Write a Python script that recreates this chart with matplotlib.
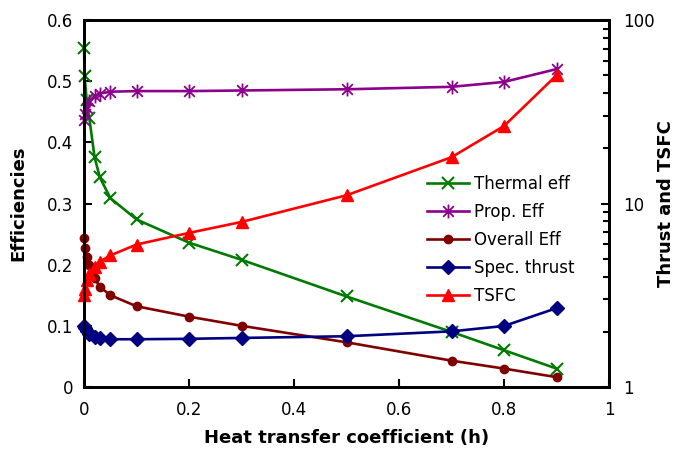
import numpy as np
import matplotlib
matplotlib.use('Agg')
from matplotlib import pyplot as plt
from matplotlib.path import Path

# heat transfer coefficient
h = [0, 0.001, 0.005, 0.01, 0.02, 0.03, 0.05, 0.1, 0.2, 0.3, 0.5, 0.7, 0.8, 0.9]

# efficiencies (left axis)
thermal_eff = [0.554, 0.508, 0.47, 0.44, 0.376, 0.343, 0.309, 0.274, 0.236, 0.208, 0.148, 0.09, 0.06, 0.03]
prop_eff = [0.437, 0.447, 0.457, 0.467, 0.476, 0.48, 0.483, 0.484, 0.484, 0.485, 0.487, 0.491, 0.499, 0.52]
overall_eff = [0.243, 0.227, 0.213, 0.2, 0.178, 0.164, 0.15, 0.132, 0.115, 0.1, 0.073, 0.043, 0.03, 0.016]

# thrust and TSFC (right axis, log)
spec_thrust = [2.15, 2.1, 2.03, 1.95, 1.88, 1.85, 1.82, 1.82, 1.83, 1.85, 1.89, 2.01, 2.15, 2.69]
tsfc = [3.16, 3.41, 3.83, 4.13, 4.53, 4.83, 5.21, 5.98, 6.92, 7.94, 11.1, 17.9, 26.5, 50.1]

# excel-style star marker (X plus vertical bar)
star = Path([(-1, -1), (1, 1), (-1, 1), (1, -1), (0, -1.3), (0, 1.3)],
            [Path.MOVETO, Path.LINETO, Path.MOVETO, Path.LINETO, Path.MOVETO, Path.LINETO])

plt.rcParams['font.family'] = 'DejaVu Sans'

fig = plt.figure(figsize=(6.89, 4.59), dpi=100)
ax = fig.add_axes([0.122, 0.157, 0.762, 0.799])
ax2 = ax.twinx()

lw = 1.9
l1, = ax.plot(h, thermal_eff, color='#007a00', lw=lw, marker='x', ms=9, mew=1.5, label='Thermal eff', clip_on=False)
l2, = ax.plot(h, prop_eff, color='#8b008b', lw=lw, marker=star, ms=10, mew=1.3, label='Prop. Eff', clip_on=False)
l3, = ax.plot(h, overall_eff, color='#800000', lw=lw, marker='o', ms=6, label='Overall Eff', clip_on=False)
l4, = ax2.plot(h, spec_thrust, color='#000080', lw=lw, marker='D', ms=7, label='Spec. thrust', clip_on=False)
l5, = ax2.plot(h, tsfc, color='#ff0000', lw=lw, marker='^', ms=9, label='TSFC', clip_on=False)

ax.set_xlim(0, 1)
ax.set_ylim(0, 0.6)
ax.set_xticks([0, 0.2, 0.4, 0.6, 0.8, 1])
ax.set_xticklabels(['0', '0.2', '0.4', '0.6', '0.8', '1'])
ax.set_yticks([0, 0.1, 0.2, 0.3, 0.4, 0.5, 0.6])
ax.set_yticklabels(['0', '0.1', '0.2', '0.3', '0.4', '0.5', '0.6'])
ax2.set_yscale('log')
ax2.set_ylim(1, 100)
ax2.set_yticks([1, 10, 100])
ax2.set_yticklabels(['1', '10', '100'])

ax.tick_params(direction='in', length=6, width=1.5, labelsize=12, pad=8)
ax.tick_params(axis='x', pad=10)
ax2.tick_params(which='major', direction='in', length=6, width=1.5, labelsize=12, pad=10)
ax2.tick_params(which='minor', direction='in', length=4, width=1.5)

for a in (ax, ax2):
    for s in a.spines.values():
        s.set_linewidth(2)

ax.set_xlabel('Heat transfer coefficient (h)', fontsize=13, fontweight='bold', labelpad=7)
ax.set_ylabel('Efficiencies', fontsize=13, fontweight='bold', labelpad=14)
ax2.set_ylabel('Thrust and TSFC', fontsize=13, fontweight='bold', labelpad=2)

ax2.legend([l1, l2, l3, l4, l5], [l.get_label() for l in (l1, l2, l3, l4, l5)],
           loc='upper left', bbox_to_anchor=(0.625, 0.62), frameon=False,
           fontsize=12, handlelength=2.5, handletextpad=0.3, labelspacing=0.6)

fig.savefig('out.png', dpi=100)
